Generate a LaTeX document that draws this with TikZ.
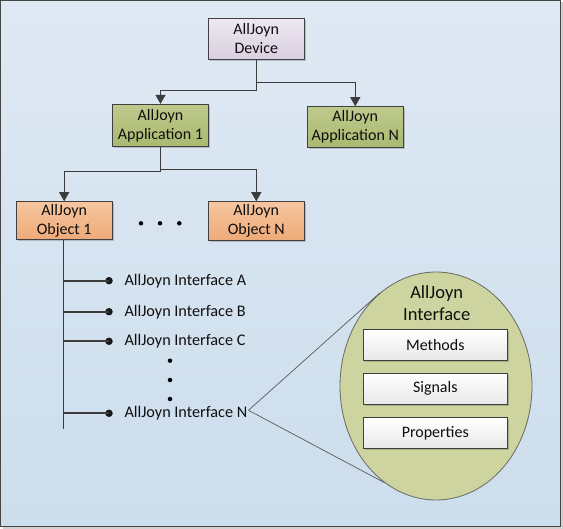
\documentclass[tikz,border=0pt]{standalone}
\usepackage{fontspec}
\setmainfont{Carlito}
\usetikzlibrary{arrows.meta,shapes.geometric,shadows,calc}
\definecolor{bgtop}{RGB}{223,233,243}
\definecolor{bgbot}{RGB}{204,221,236}
\definecolor{frame}{RGB}{70,70,70}
\definecolor{bord}{RGB}{64,64,64}
\definecolor{ln}{RGB}{60,60,60}
\definecolor{txt}{RGB}{15,15,15}
\definecolor{devtop}{RGB}{238,232,242}
\definecolor{devbot}{RGB}{218,207,224}
\definecolor{apptop}{RGB}{190,202,140}
\definecolor{appbot}{RGB}{170,185,112}
\definecolor{objtop}{RGB}{246,198,160}
\definecolor{objbot}{RGB}{238,170,120}
\definecolor{ellfill}{RGB}{205,212,160}
\definecolor{elldraw}{RGB}{105,105,100}
\definecolor{memtop}{RGB}{255,255,255}
\definecolor{membot}{RGB}{232,232,232}
\begin{document}
\begin{tikzpicture}[x=1pt,y=-1pt,
  box/.style={rectangle, draw=bord, line width=0.9pt, inner sep=0pt, align=center,
    text=txt, font=\fontsize{16}{19}\selectfont,
    drop shadow={shadow xshift=1.5pt, shadow yshift=-1.5pt, fill=black, opacity=0.18}},
  devbox/.style={box, top color=devtop, bottom color=devbot},
  appbox/.style={box, top color=apptop, bottom color=appbot},
  objbox/.style={box, top color=objtop, bottom color=objbot},
  membox/.style={box, top color=memtop, bottom color=membot, minimum width=144pt, minimum height=31pt},
  arr/.style={draw=ln, line width=1.2pt, -{Triangle[width=10pt,length=9pt]}},
  trunk/.style={draw=ln, line width=1.2pt},
  branch/.style={draw=ln, line width=2.2pt},
  ifdot/.style={circle, fill=black!90, inner sep=0pt, minimum size=7.5pt},
  smalldot/.style={circle, fill=black, inner sep=0pt, minimum size=4.5pt},
  iflab/.style={inner sep=0pt, text=txt, font=\fontsize{16.2}{19}\selectfont},
  zoomline/.style={draw=black!65, line width=0.7pt}]
\useasboundingbox (0,0) rectangle (563,529);
% frame
\fill[black!18] (2.5,2.5) rectangle (563,529);
\draw[line width=1.3pt, draw=frame, top color=bgtop, bottom color=bgbot] (0.65,0.65) rectangle (560.5,526.6);

% top level boxes
\node[devbox, minimum width=96pt, minimum height=41pt] (dev) at (256.3,38.8) {AllJoyn\\Device};
\node[appbox, minimum width=95.6pt, minimum height=42pt] (app1) at (160.5,125.3) {AllJoyn\\Application 1};
\node[appbox, minimum width=96pt, minimum height=40.6pt] (appN) at (355.3,127) {AllJoyn\\Application N};
\node[objbox, minimum width=96.3pt, minimum height=37.6pt] (obj1) at (64.2,220.5) {AllJoyn\\Object 1};
\node[objbox, minimum width=96pt, minimum height=38.6pt] (objN) at (256.3,221) {AllJoyn\\Object N};

\draw[arr] (dev.south) -- ++(0,31) -| (app1.north);
\draw[arr] (dev.south) -- ++(0,23) -| (appN.north);
\draw[arr] (app1.south) -- ++(0,24.6) -| (obj1.north);
\draw[arr] (app1.south) -- ++(0,23) -| (objN.north);

% horizontal dots
\node[smalldot] (h1) at (141,223.3) {};
\node[smalldot] (h2) at (160,223.3) {};
\node[smalldot] (h3) at (179.3,223.3) {};

% interfaces
\node[iflab, anchor=west] (ifA) at (124.3,280.7) {AllJoyn Interface A};
\node[iflab, anchor=west] (ifB) at (124.3,311.7) {AllJoyn Interface B};
\node[iflab, anchor=west] (ifC) at (124.3,341.3) {AllJoyn Interface C};
\node[iflab, anchor=west] (ifN) at (124.3,413.3) {AllJoyn Interface N};
\node[ifdot] (dA) at (109,280.7) {};
\node[ifdot] (dB) at (109,311.7) {};
\node[ifdot] (dC) at (109,341.3) {};
\node[ifdot] (dN) at (109,413.3) {};
\coordinate (tend) at (63.6,429.3);
\draw[trunk] (obj1.south -| tend) -- (tend);
\draw[branch] (tend |- dA) -- (dA.center);
\draw[branch] (tend |- dB) -- (dB.center);
\draw[branch] (tend |- dC) -- (dC.center);
\draw[branch] (tend |- dN) -- (dN.center);

% vertical dots
\node[smalldot] (v1) at (170,360.7) {};
\node[smalldot] (v2) at (170,380) {};
\node[smalldot] (v3) at (170,399) {};

% ellipse
\node[ellipse, draw=elldraw, fill=ellfill, line width=0.8pt, inner sep=0pt,
      minimum width=192pt, minimum height=228pt] (ell) at (436,386) {};
\coordinate (zp) at ($(ifN.east)+(1,-3)$);
\draw[zoomline] (zp) -- (ell.121.6);
\draw[zoomline] (zp) -- (ell.242.7);

\node[align=center, text=txt, inner sep=0pt, font=\fontsize{18.5}{22}\selectfont] (ttl) at (436.7,303) {AllJoyn\\Interface};
\node[membox] (meth) at (435.3,345.2) {Methods};
\node[membox] (sig) at (435.3,388.8) {Signals};
\node[membox] (prop) at (435.3,432.8) {Properties};
\end{tikzpicture}
\end{document}
